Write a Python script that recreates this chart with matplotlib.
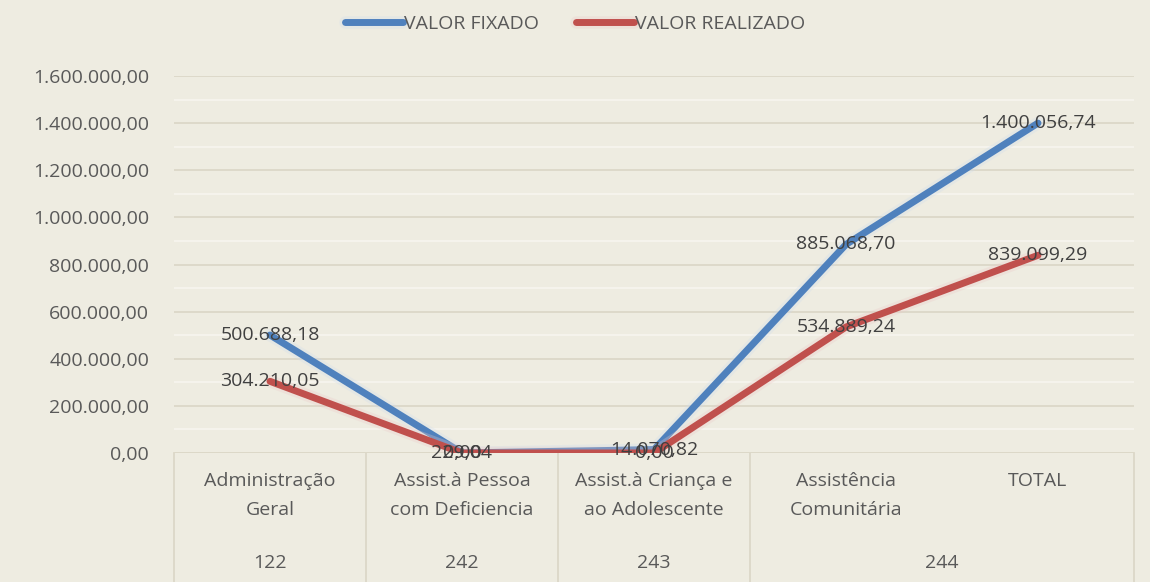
import matplotlib
matplotlib.use('Agg')
import matplotlib.pyplot as plt
import matplotlib.patheffects as pe
from matplotlib.ticker import FuncFormatter, MultipleLocator

plt.rcParams['font.family'] = ['Open Sans', 'DejaVu Sans']

categorias = ['Administração\nGeral', 'Assist.à Pessoa\ncom Deficiencia',
              'Assist.à Criança e\nao Adolescente', 'Assistência\nComunitária', 'TOTAL']
codigos = ['122', '242', '243', '244']
codigos_span = [(0, 0), (1, 1), (2, 2), (3, 4)]
valor_fixado = [500688.18, 229.04, 14070.82, 885068.70, 1400056.74]
valor_realizado = [304210.05, 0.00, 0.00, 534889.24, 839099.29]

bg = '#eeece1'
azul = '#4f81bd'
vermelho = '#c0504d'
cinza = '#595959'
fs = 14


def br(v, pos=None):
    s = f'{v:,.2f}'
    return s.replace(',', 'X').replace('.', ',').replace('X', '.')


fig = plt.figure(figsize=(11.5, 5.82), dpi=100, facecolor=bg)
ax = fig.add_axes([174 / 1150, 129 / 582, 960 / 1150, 377 / 582])
ax.set_facecolor(bg)

x = list(range(len(categorias)))
glow = lambda c: [pe.Stroke(linewidth=9, foreground=c, alpha=0.3), pe.Normal()]
ax.plot(x, valor_fixado, color=azul, linewidth=5, label='VALOR FIXADO',
        solid_capstyle='round', path_effects=glow('#cfdcee'), zorder=3)
ax.plot(x, valor_realizado, color=vermelho, linewidth=5, label='VALOR REALIZADO',
        solid_capstyle='round', path_effects=glow('#ecc9c8'), zorder=3)

for xi, v in zip(x, valor_fixado):
    ax.text(xi, v, br(v), ha='center', va='center', fontsize=fs, color='#404040', zorder=5)
for xi, v in zip(x, valor_realizado):
    ax.text(xi, v, br(v), ha='center', va='center', fontsize=fs, color='#404040', zorder=5)

ax.set_xlim(-0.5, len(categorias) - 0.5)
ax.set_ylim(0, 1600000)
ax.yaxis.set_major_locator(MultipleLocator(200000))
ax.yaxis.set_minor_locator(MultipleLocator(100000))
ax.yaxis.set_major_formatter(FuncFormatter(br))
ax.grid(axis='y', which='major', color='#dcd8c8', linewidth=1.3)
ax.grid(axis='y', which='minor', color='#f6f4ee', linewidth=1.3)
ax.set_axisbelow(True)
ax.tick_params(axis='y', length=0, labelsize=fs, labelcolor=cinza, pad=18)
ax.tick_params(axis='y', which='minor', length=0)
ax.set_xticks([])
for s in ax.spines.values():
    s.set_visible(False)

# eixo de categorias em dois niveis
for xi, nome in zip(x, categorias):
    ax.text(xi, -0.05, nome, transform=ax.get_xaxis_transform(), ha='center', va='top',
            fontsize=fs, color=cinza, linespacing=1.8)
for cod, (a, b) in zip(codigos, codigos_span):
    ax.text((a + b) / 2, -0.292, cod, transform=ax.get_xaxis_transform(), ha='center',
            va='center', fontsize=fs, color=cinza)
for xb in [-0.5, 0.5, 1.5, 2.5, 4.5]:
    ax.plot([xb, xb], [0, -0.36], transform=ax.get_xaxis_transform(), color='#dcd8c8',
            linewidth=1.3, clip_on=False)
ax.axhline(0, color='#dcd8c8', linewidth=1.3)

fig.legend(loc='upper center', bbox_to_anchor=(0.5, 1.005), ncol=2, frameon=False,
           fontsize=fs, labelcolor=cinza, handlelength=3.0, handletextpad=0.05,
           columnspacing=1.9)

fig.savefig('out.png', dpi=100, facecolor=bg)
